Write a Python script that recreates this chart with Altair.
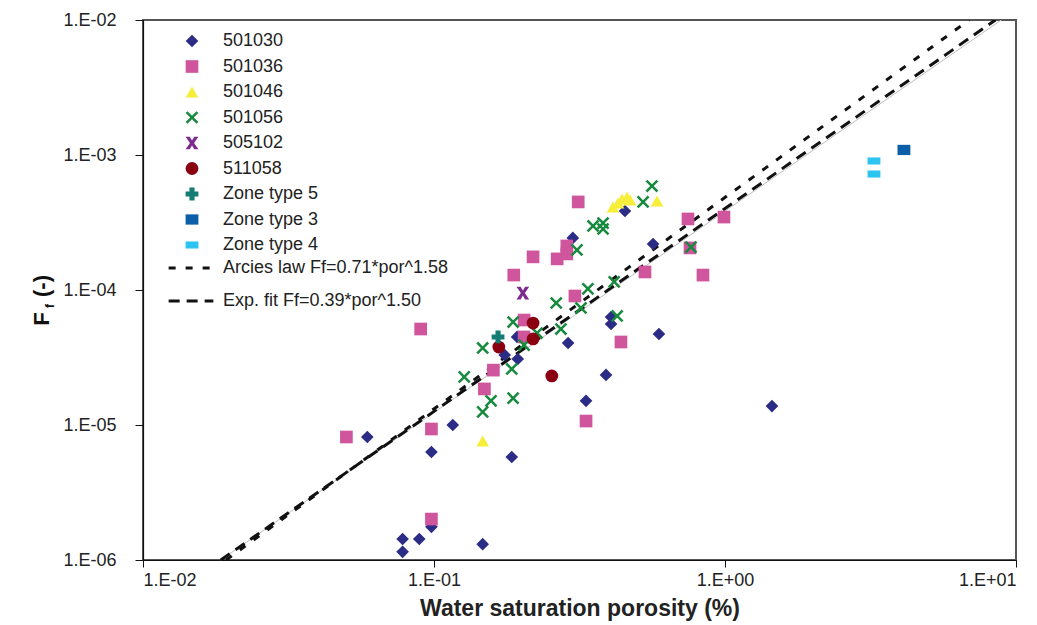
import altair as alt
import pandas as pd

# ---------------- data ----------------
series_names = ["501030", "501036", "501046", "501056", "505102", "511058",
                "Zone type 5", "Zone type 3", "Zone type 4"]

s501030_x = [0.059, 0.078, 0.089, 0.078, 0.098, 0.098, 0.116, 0.147, 0.185, 0.175, 0.194,
             0.193, 0.289, 0.333, 0.390, 0.406, 0.406, 0.593, 0.300, 0.453, 0.566, 1.45]
s501030_y = [8.15e-6, 1.43e-6, 1.43e-6, 1.15e-6, 1.76e-6, 6.31e-6, 1.0e-5, 1.31e-6, 5.79e-6,
             3.30e-5, 3.08e-5, 4.49e-5, 4.05e-5, 1.51e-5, 2.35e-5, 6.31e-5, 5.60e-5, 4.72e-5,
             2.43e-4, 3.85e-4, 2.19e-4, 1.38e-5]

s501036_x = [0.050, 0.098, 0.098, 0.149, 0.160, 0.090, 0.204, 0.204, 0.188, 0.219, 0.265,
             0.286, 0.286, 0.313, 0.305, 0.333, 0.439, 0.531, 0.746, 0.758, 0.840, 0.992]
s501036_y = [8.15e-6, 9.34e-6, 2.01e-6, 1.85e-5, 2.55e-5, 5.14e-5, 5.99e-5, 4.49e-5, 1.29e-4,
             1.76e-4, 1.70e-4, 2.12e-4, 1.85e-4, 4.49e-4, 9.03e-5, 1.07e-5, 4.12e-5, 1.36e-4,
             3.36e-4, 2.05e-4, 1.29e-4, 3.47e-4]

s501046_x = [0.147, 0.412, 0.429, 0.443, 0.461, 0.472, 0.584]
s501046_y = [7.61e-6, 4.12e-4, 4.41e-4, 4.72e-4, 4.89e-4, 4.64e-4, 4.56e-4]

s501056_x = [0.561, 0.523, 0.352, 0.381, 0.381, 0.310, 0.338, 0.416, 0.263, 0.320, 0.426,
             0.187, 0.273, 0.204, 0.147, 0.226, 0.185, 0.127, 0.157, 0.187, 0.147, 0.764]
s501056_y = [5.89e-4, 4.49e-4, 2.98e-4, 3.13e-4, 2.83e-4, 1.98e-4, 1.02e-4, 1.15e-4, 8.01e-5,
             7.36e-5, 6.42e-5, 5.79e-5, 5.14e-5, 3.91e-5, 3.72e-5, 4.80e-5, 2.60e-5, 2.27e-5,
             1.51e-5, 1.58e-5, 1.25e-5, 2.08e-4]

s505102_x = [0.202]
s505102_y = [9.50e-5]

s511058_x = [0.219, 0.219, 0.167, 0.254]
s511058_y = [5.69e-5, 4.34e-5, 3.78e-5, 2.31e-5]

zone5_x = [0.166]
zone5_y = [4.49e-5]

zone3_x = [4.12]
zone3_y = [1.09e-3]

zone4_x = [3.25, 3.25]
zone4_y = [9.03e-4, 7.23e-4]

fit_names = ["Arcies law Ff=0.71*por^1.58", "Exp. fit Ff=0.39*por^1.50"]
arcies_x = [0.0193, 6.9]
arcies_y = [1e-6, 1e-2]
expfit_x = [0.0185, 8.5]
expfit_y = [1e-6, 1e-2]
trend_x = [0.0185, 8.9]
trend_y = [1e-6, 1e-2]

x_ticks = [0.01, 0.1, 1, 10]
x_tick_labels = ["1.E-02", "1.E-01", "1.E+00", "1.E+01"]
y_ticks = [1e-6, 1e-5, 1e-4, 1e-3, 1e-2]
y_tick_labels = ["1.E-06", "1.E-05", "1.E-04", "1.E-03", "1.E-02"]

# ---------------- styles ----------------
colors = ["#2B2C86", "#CF559D", "#F7EE3B", "#178A3E", "#7C2C8C", "#8A0010",
          "#137C74", "#0B5EA8", "#2EC4F1"]
X_POLY = ("M-1,-0.72L-0.72,-1L0,-0.28L0.72,-1L1,-0.72L0.28,0L1,0.72L0.72,1L0,0.28"
          "L-0.72,1L-1,0.72L-0.28,0Z")
STAR_X = ("M-1,-1L-0.35,-1L0,-0.4L0.35,-1L1,-1L0.32,0L1,1L0.35,1L0,0.4L-0.35,1L-1,1L-0.32,0Z")
shapes = ["diamond", "square", "triangle-up", X_POLY, STAR_X, "circle", "cross",
          "M-1,-0.8L1,-0.8L1,0.8L-1,0.8Z", "M-1,-0.55L1,-0.55L1,0.55L-1,0.55Z"]
sizes = [160, 165, 160, 125, 140, 175, 115, 64, 169]

FONT = "Liberation Sans"

# ---------------- tables ----------------
pts_x = [s501030_x, s501036_x, s501046_x, s501056_x, s505102_x, s511058_x, zone5_x, zone3_x, zone4_x]
pts_y = [s501030_y, s501036_y, s501046_y, s501056_y, s505102_y, s511058_y, zone5_y, zone3_y, zone4_y]
rows = []
for name, xs, ys in zip(series_names, pts_x, pts_y):
    for xv, yv in zip(xs, ys):
        rows.append({"x": xv, "y": yv, "series": name})
points = pd.DataFrame(rows)

lrows = []
for name, xs, ys in zip(fit_names, [arcies_x, expfit_x], [arcies_y, expfit_y]):
    for xv, yv in zip(xs, ys):
        lrows.append({"x": xv, "y": yv, "fit": name})
lines = pd.DataFrame(lrows)
trend = pd.DataFrame({"x": trend_x, "y": trend_y})

x_label_expr = str(x_tick_labels) + "[round(log(datum.value)/LN10) + 2]"
y_label_expr = str(y_tick_labels) + "[round(log(datum.value)/LN10) + 6]"

xscale = alt.Scale(type="log", domain=[x_ticks[0], x_ticks[-1]], nice=False)
yscale = alt.Scale(type="log", domain=[y_ticks[0], y_ticks[-1]], nice=False)

xenc = alt.X("x:Q", scale=xscale,
             axis=alt.Axis(values=x_ticks, labelExpr=x_label_expr, title="Water saturation porosity (%)",
                           tickSize=7, labelPadding=4, titlePadding=8, titleFontSize=23,
                           titleFontWeight="bold"))
yenc = alt.Y("y:Q", scale=yscale,
             axis=alt.Axis(values=y_ticks, labelExpr=y_label_expr, title=None,
                           tickSize=8, labelPadding=19))

pt_legend = alt.Legend(title=None, orient="none", legendX=40, legendY=12, padding=0,
                       labelFontSize=18, labelOffset=22, rowPadding=7.5, labelLimit=400,
                       labelFont=FONT, labelColor="#222", symbolStrokeWidth=0)

point_layer = alt.Chart(points).mark_point(opacity=1, filled=True, strokeWidth=0).encode(
    x=xenc, y=yenc,
    color=alt.Color("series:N", scale=alt.Scale(domain=series_names, range=colors), legend=pt_legend),
    shape=alt.Shape("series:N", scale=alt.Scale(domain=series_names, range=shapes), legend=pt_legend),
    size=alt.Size("series:N", scale=alt.Scale(domain=series_names, range=sizes), legend=pt_legend),
)

trend_layer = alt.Chart(trend).mark_line(color="#bdbdbd", strokeWidth=1).encode(x=xenc, y=yenc)

line_layer = alt.Chart(lines).mark_line(color="#111", strokeWidth=3, clip=True).encode(
    x=xenc, y=yenc,
    strokeDash=alt.StrokeDash("fit:N", scale=alt.Scale(domain=fit_names, range=[[7, 10], [11, 7]]),
                              legend=alt.Legend(title=None, orient="none", legendX=24, legendY=224,
                                                padding=0, labelFontSize=18, labelOffset=8,
                                                rowPadding=-20, symbolSize=2000, symbolStrokeWidth=3,
                                                symbolStrokeColor="#111", labelFont=FONT,
                                                labelLimit=400, labelColor="#222")),
    detail="fit:N",
)

ytitle_F = alt.Chart(pd.DataFrame({"t": ["F"]})).mark_text(
    angle=270, fontSize=22, fontWeight="bold", font=FONT, baseline="alphabetic",
    align="center", color="#111").encode(text="t:N", x=alt.value(-94), y=alt.value(299))
ytitle_f = alt.Chart(pd.DataFrame({"t": ["f"]})).mark_text(
    angle=270, fontSize=12, fontWeight="bold", font=FONT, baseline="alphabetic",
    align="center", color="#111").encode(text="t:N", x=alt.value(-89), y=alt.value(286))
ytitle_rest = alt.Chart(pd.DataFrame({"t": ["(-)"]})).mark_text(
    angle=270, fontSize=22, fontWeight="bold", font=FONT, baseline="alphabetic",
    align="center", color="#111").encode(text="t:N", x=alt.value(-94), y=alt.value(266))

chart = alt.layer(trend_layer, line_layer, point_layer, ytitle_F, ytitle_f, ytitle_rest).properties(
    width=873, height=540,
    autosize=alt.AutoSizeParams(type="none"),
    padding={"left": 143, "top": 20, "right": 21, "bottom": 65},
).configure_view(
    stroke="#555", strokeWidth=2
).configure_axis(
    grid=False, labelFont=FONT, labelFontSize=18, labelColor="#222", domainColor="#111",
    tickColor="#111", titleFont=FONT, titleColor="#222", domainWidth=1.2
)

chart.save("out.html", embed_options={"renderer": "svg", "actions": False})
